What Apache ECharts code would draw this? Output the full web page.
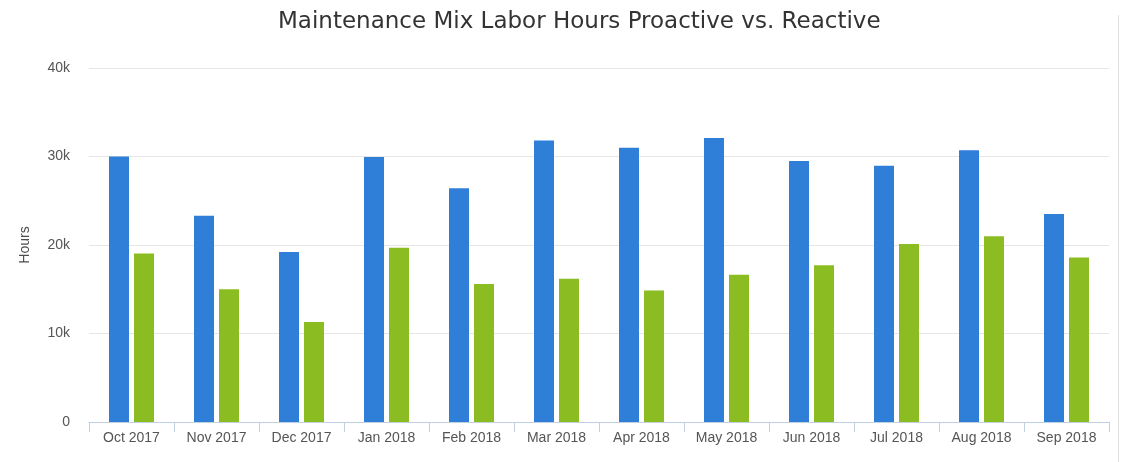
<!DOCTYPE html>
<html>
<head>
<meta charset="utf-8">
<script src="https://cdn.jsdelivr.net/npm/echarts@6/dist/echarts.min.js"></script>
<style>
  html, body { margin: 0; padding: 0; background: #fff; }
  #chart { width: 1122px; height: 462px; }
</style>
</head>
<body>
<div id="chart"></div>
<script>
const months = ['Oct 2017', 'Nov 2017', 'Dec 2017', 'Jan 2018', 'Feb 2018', 'Mar 2018',
  'Apr 2018', 'May 2018', 'Jun 2018', 'Jul 2018', 'Aug 2018', 'Sep 2018']
const proactive = [30000, 23300, 19200, 29950, 26400, 31800, 31000, 32100, 29500, 28950, 30700, 23500]
const reactive = [19050, 15000, 11300, 19700, 15600, 16200, 14850, 16650, 17700, 20100, 21000, 18600]
const yTicks = [0, 10000, 20000, 30000, 40000]

const chart = echarts.init(document.getElementById('chart'))

const option = {
  animation: false,
  title: {
    text: 'Maintenance Mix Labor Hours Proactive vs. Reactive',
    left: 273,
    top: 6,
    textStyle: {
      fontFamily: 'DejaVu Sans',
      fontSize: 23,
      fontWeight: 'normal',
      color: '#333'
    }
  },
  grid: { left: 89, right: 13, top: 68, bottom: 40 },
  xAxis: {
    type: 'category',
    data: months,
    axisLine: { lineStyle: { color: '#C0D0E0', width: 1 } },
    axisTick: { show: true, length: 10, lineStyle: { color: '#C0D0E0' } },
    axisLabel: {
      color: '#555',
      fontFamily: 'Liberation Sans',
      fontSize: 14,
      margin: 9
    }
  },
  yAxis: {
    type: 'value',
    min: yTicks[0],
    max: yTicks[yTicks.length - 1],
    interval: 10000,
    name: 'Hours',
    nameLocation: 'middle',
    nameGap: 57,
    nameTextStyle: { color: '#4d4d4d', fontFamily: 'Liberation Sans', fontSize: 14 },
    axisLine: { show: false },
    axisTick: { show: false },
    splitLine: { lineStyle: { color: '#E6E6E6' } },
    axisLabel: {
      color: '#555',
      fontFamily: 'Liberation Sans',
      fontSize: 14,
      margin: 19,
      formatter: v => v === 0 ? '0' : (v / 1000) + 'k'
    }
  },
  series: [
    {
      name: 'Proactive',
      type: 'bar',
      data: proactive,
      barWidth: 20,
      barGap: '25%',
      itemStyle: { color: '#2F7ED8' }
    },
    {
      name: 'Reactive',
      type: 'bar',
      data: reactive,
      barWidth: 20,
      itemStyle: { color: '#8BBC21' }
    }
  ],
  graphic: [
    {
      type: 'line',
      shape: { x1: 1118.5, y1: 15, x2: 1118.5, y2: 462 },
      style: { stroke: '#E0E0E0', lineWidth: 1 }
    }
  ]
}

chart.setOption(option)
</script>
</body>
</html>
